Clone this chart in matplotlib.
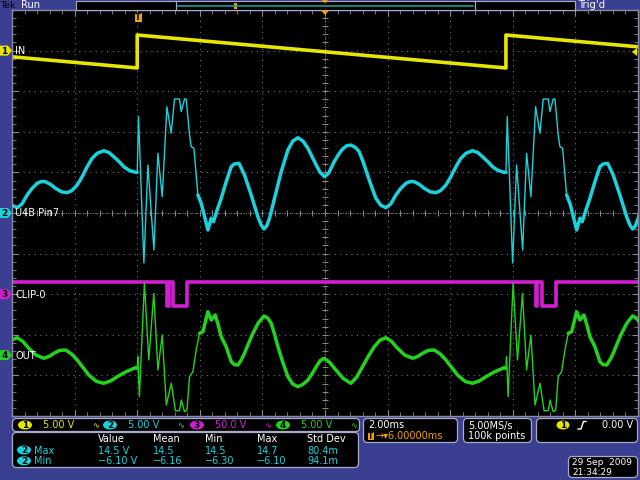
import numpy as np
import matplotlib
matplotlib.use("Agg")
import matplotlib.pyplot as plt
from matplotlib.patches import FancyBboxPatch, Polygon, Ellipse, Rectangle

# one repeat of the captured signal, time from trigger in ms
PERIOD = 11.78

# ch1 IN (yellow), volts
in_t = [0.0, 11.78]
in_v = [1.92, -2.14]

# ch2 U4B Pin7 (cyan), volts
pin7_t = [0.000, 0.042, 0.214, 0.342, 0.534, 0.661, 0.799, 0.949, 1.086, 1.192,
          1.351, 1.406, 1.511, 1.565, 1.671, 1.725, 1.812, 1.939, 2.045, 2.141,
          2.259, 2.364, 2.438, 2.556, 2.684, 2.843, 3.003, 3.099, 3.249, 3.323,
          3.428, 3.642, 3.856, 3.962, 4.048, 4.137, 4.227, 4.387, 4.601, 4.815,
          4.974, 5.134, 5.294, 5.454, 5.591, 5.719, 5.847, 5.984, 6.118, 6.294,
          6.422, 6.559, 6.693, 6.827, 6.965, 7.093, 7.220, 7.358, 7.492, 7.626,
          7.780, 7.946, 8.099, 8.265, 8.419, 8.585, 8.722, 8.850, 9.010, 9.169,
          9.361, 9.543, 9.696, 9.863, 10.016, 10.182, 10.335, 10.502, 10.712, 10.879,
          11.032, 11.198, 11.352, 11.534, 11.725]
pin7_v = [5.01, 11.86, -6.16, 5.91, -4.56, 7.35, 2.01, 13.09, 9.82, 14.04,
          14.04, 12.48, 14.04, 14.04, 9.61, 8.17, 7.97, 2.22, 1.19, -0.25,
          -2.09, -0.65, -1.07, 0.37, 1.81, 3.85, 5.70, 6.03, 6.12, 5.54,
          4.68, 2.22, -0.46, -1.48, -1.97, -1.60, -0.65, 1.81, 5.09, 7.76,
          8.87, 9.27, 8.87, 7.97, 6.90, 5.91, 4.99, 4.47, 4.93, 6.32,
          7.14, 7.88, 8.28, 8.37, 8.09, 7.55, 6.28, 4.68, 3.20, 1.81,
          0.96, 0.65, 1.11, 2.22, 3.02, 3.66, 3.88, 3.85, 3.53, 3.04,
          2.61, 2.50, 2.77, 3.45, 4.43, 5.70, 6.71, 7.35, 7.67, 7.45,
          6.93, 6.34, 5.70, 5.23, 5.01]

# ch3 CLIP-0 (magenta), volts
clip_t = [0.0, 0.95, 0.95, 1.00, 1.00, 1.14, 1.14, 1.59, 1.59, 11.78]
clip_v = [14.7, 14.7, -14.5, -14.5, 14.7, 14.7, -14.5, -14.5, 14.7, 14.7]

# ch4 OUT (green), volts
out_t = [0.000, 0.020, 0.070, 0.230, 0.370, 0.530, 0.660, 0.800, 0.930, 1.090,
         1.220, 1.350, 1.410, 1.510, 1.590, 1.671, 1.780, 1.885, 1.990, 2.099,
         2.259, 2.364, 2.492, 2.588, 2.684, 2.843, 3.003, 3.099, 3.217, 3.323,
         3.428, 3.562, 3.696, 3.866, 4.048, 4.169, 4.281, 4.377, 4.495, 4.649,
         4.815, 4.968, 5.134, 5.288, 5.454, 5.591, 5.719, 5.847, 5.974, 6.150,
         6.348, 6.581, 6.827, 7.013, 7.198, 7.380, 7.572, 7.764, 7.946, 8.131,
         8.316, 8.546, 8.796, 8.962, 9.115, 9.297, 9.489, 9.681, 9.863, 10.048,
         10.233, 10.479, 10.712, 10.927, 11.141, 11.406, 11.725]
out_v = [-1.63, -0.20, -5.12, 8.84, -0.60, 7.61, -1.83, 2.48, -6.15, -3.47,
         -6.85, -6.85, -5.53, -6.97, -6.76, -2.66, -2.04, 0.63, 2.68, 2.88,
         5.34, 4.32, 4.94, 3.71, 2.27, 1.03, -0.81, -1.16, -1.22, -0.60,
         0.22, 1.49, 2.68, 3.95, 4.82, 4.57, 3.92, 2.72, 1.03, -0.85,
         -2.66, -3.56, -3.89, -3.62, -3.07, -2.27, -1.43, -0.67, -0.39, -0.91,
         -1.83, -2.88, -3.47, -2.70, -1.43, -0.17, 1.03, 1.86, 2.14, 1.67,
         0.84, 0.01, -0.39, -0.17, 0.22, 0.57, 0.63, 0.14, -0.60, -1.53,
         -2.45, -3.25, -3.47, -3.19, -2.66, -2.08, -1.55]

# channel settings: number, label, volts/div, ground position (div), colour
channels = [
    ("1", "IN", 5.0, 4.0, "#e6e600"),
    ("2", "U4B Pin7", 5.0, 0.0, "#19d2dc"),
    ("3", "CLIP-0", 50.0, -2.0, "#d21ed2"),
    ("4", "OUT", 5.0, -3.5, "#23d21e"),
]
scale_text = ["5.00 V", "5.00 V", "50.0 V", "5.00 V"]

meas_cols = ["Value", "Mean", "Min", "Max", "Std Dev"]
meas_rows = ["Max", "Min"]
meas_vals = [["14.5 V", "14.5", "14.5", "14.7", "80.4m"],
             ["\u22126.10 V", "\u22126.16", "\u22126.30", "\u22126.10", "94.1m"]]

BG = "#3b3f91"
BORDER = "#a9abc8"
ORANGE = "#f0a000"


def tile(t, v):
    t = np.asarray(t, float)
    v = np.asarray(v, float)
    tt = np.concatenate([t + k * PERIOD for k in (-1, 0, 1)])
    return tt, np.tile(v, 3)


def to_div(v, ch):
    return np.asarray(v) / ch[2] + ch[3]


fig = plt.figure(figsize=(6.4, 4.8), dpi=100, facecolor=BG)
ax = fig.add_axes([12 / 640, 64 / 480, 626 / 640, 406 / 480], facecolor="black")
ax.set_xlim(-4, 16)
ax.set_ylim(-5, 5)

# graticule
ax.set_xticks(np.arange(-4, 16.01, 2))
ax.set_yticks(np.arange(-5, 5.01, 1))
ax.set_xticks(np.arange(-4, 16.01, 0.4), minor=True)
ax.set_yticks(np.arange(-5, 5.01, 0.2), minor=True)
ax.tick_params(which="both", direction="in", colors="#8a8a8a", top=True, right=True,
               labelbottom=False, labelleft=False)
ax.tick_params(which="major", length=4, width=0.8)
ax.tick_params(which="minor", length=3, width=0.6)
ax.grid(which="major", color="#6e6e6e", linestyle=(0, (1, 4)), linewidth=0.8)
for s in ax.spines.values():
    s.set_color("#8a8aa0")
    s.set_linewidth(1.0)
ax.axhline(0, color="#7a7a7a", lw=0.7, ls=(0, (1, 1.5)))
ax.axvline(6, color="#7a7a7a", lw=0.7, ls=(0, (1, 1.5)))
mx = np.arange(-4, 16.01, 0.4)
my = np.arange(-5, 5.01, 0.2)
ax.plot(mx, np.zeros_like(mx), ls="none", marker="|", ms=4, color="#8a8a8a", mew=0.7)
ax.plot(np.full_like(my, 6.0), my, ls="none", marker="_", ms=4, color="#8a8a8a", mew=0.7)

# traces
t1, v1 = tile(in_t, in_v)
ax.plot(t1, to_div(v1, channels[0]), color=channels[0][4], lw=2.6)

t3, v3 = tile(clip_t, clip_v)
ax.plot(t3, to_div(v3, channels[2]), color=channels[2][4], lw=2.6)

for ch, ct, cv in [(channels[1], pin7_t, pin7_v), (channels[3], out_t, out_v)]:
    tt, vv = tile(ct, cv)
    ax.plot(tt, to_div(vv, ch), color=ch[4], lw=1.0)
    ca = np.asarray(ct)
    thick = np.where((ca >= 1.9) | (ca == 0), np.asarray(cv, float), np.nan)
    tt, vv = tile(ct, thick)
    ax.plot(tt, to_div(vv, ch), color=ch[4], lw=2.5, solid_capstyle="round",
            solid_joinstyle="round")

# overlay in screen pixels
ov = fig.add_axes([0, 0, 1, 1], zorder=5)
ov.set_xlim(0, 640)
ov.set_ylim(480, 0)
ov.axis("off")
ov.patch.set_alpha(0)
FS = 7

# top bar
ov.text(0, 5.5, "Tek", color="black", fontsize=6.8, va="center")
ov.text(21, 5.5, "Run", color="white", fontsize=7.2, va="center")
ov.add_patch(Rectangle((76, 0.5), 100, 9, fc="black", ec=BORDER, lw=0.8))
ov.add_patch(Rectangle((176, 0.5), 299, 9, fc="black", ec=BORDER, lw=0.8))
ov.add_patch(Rectangle((475, 0.5), 100, 9, fc="black", ec=BORDER, lw=0.8))
ov.plot([178, 473], [5.5, 5.5], color="#1f9c8c", lw=1.2)
ov.add_patch(Rectangle((233.5, 3), 3, 6, fc=ORANGE, ec="none"))
ov.add_patch(Polygon([(322, 0), (328, 0), (325, 3.5)], fc=ORANGE, ec="none"))
ov.text(578, 5.5, "Trig'd", color="white", fontsize=7.2, va="center")

# trigger markers in the graticule
ov.add_patch(Rectangle((134.5, 13), 7, 9, fc=ORANGE, ec="none"))
ov.text(138, 17.5, "T", color="black", fontsize=6, ha="center", va="center", fontweight="bold")
ov.add_patch(Polygon([(321, 10.5), (329, 10.5), (325, 15)], fc=ORANGE, ec="none"))
ov.add_patch(Polygon([(637, 48), (637, 56), (632, 52)], fc=channels[0][4], ec="none"))

# channel tags at the left edge
for num, name, sc, off, col in channels:
    y = 213 - off * 40.6
    ov.add_patch(Polygon([(0, y - 5), (8, y - 5), (12, y), (8, y + 5), (0, y + 5)],
                         fc=col, ec="none"))
    ov.text(4.5, y + 0.5, num, color="black", fontsize=6.5, ha="center", va="center",
            fontweight="bold")
    ov.text(15, y + 0.5, name, color="white", fontsize=FS, va="center")

# channel scale row
ov.add_patch(FancyBboxPatch((14, 420), 344, 10, boxstyle="round,pad=1.5,rounding_size=4",
                            fc="black", ec=BORDER, lw=0.9))
cx = [25, 110, 197, 283]
for i, (num, name, sc, off, col) in enumerate(channels):
    ov.add_patch(Ellipse((cx[i], 425), 14, 9, fc=col, ec="none"))
    ov.text(cx[i], 425.5, num, color="black", fontsize=6.5, ha="center", va="center",
            fontweight="bold")
    ov.text(cx[i] + 18, 425.5, scale_text[i], color=col, fontsize=FS, va="center")
    ov.text(cx[i] + 67, 425.5, "\u223f", color=col, fontsize=6, va="center")

# measurement table
ov.add_patch(FancyBboxPatch((14, 434), 343, 32, boxstyle="round,pad=1.5,rounding_size=4",
                            fc="black", ec=BORDER, lw=0.9))
col_x = [98, 153, 205, 257, 307]
for x, h in zip(col_x, meas_cols):
    ov.text(x, 439.5, h, color="white", fontsize=FS, va="center")
for r, (lab, vals) in enumerate(zip(meas_rows, meas_vals)):
    y = 450.5 + r * 10.8
    ov.add_patch(Ellipse((24, y - 0.5), 14, 9, fc=channels[1][4], ec="none"))
    ov.text(24, y, "2", color="black", fontsize=6.5, ha="center", va="center",
            fontweight="bold")
    ov.text(34, y, lab, color=channels[1][4], fontsize=FS, va="center")
    for x, val in zip(col_x, vals):
        ov.text(x, y, val, color=channels[1][4], fontsize=FS, va="center")

# timebase
ov.add_patch(FancyBboxPatch((365, 420), 91, 21, boxstyle="round,pad=1.5,rounding_size=4",
                            fc="black", ec=BORDER, lw=0.9))
ov.text(368, 425.5, "2.00ms", color="white", fontsize=FS, va="center")
ov.add_patch(Rectangle((368, 432), 6, 8, fc=ORANGE, ec="none"))
ov.text(371, 436.5, "T", color="black", fontsize=5.5, ha="center", va="center",
        fontweight="bold")
ov.text(375, 436, "\u2192\u25be6.00000ms", color=ORANGE, fontsize=FS, va="center")

# acquisition
ov.add_patch(FancyBboxPatch((465, 420), 65, 21, boxstyle="round,pad=1.5,rounding_size=4",
                            fc="black", ec=BORDER, lw=0.9))
ov.text(468, 425.5, "5.00MS/s", color="white", fontsize=FS, va="center")
ov.text(468, 436, "100k points", color="white", fontsize=FS, va="center")

# trigger
ov.add_patch(FancyBboxPatch((538, 420), 98, 21, boxstyle="round,pad=1.5,rounding_size=4",
                            fc="black", ec=BORDER, lw=0.9))
ov.add_patch(Ellipse((563, 425), 13, 9, fc=channels[0][4], ec="none"))
ov.text(563, 425.5, "1", color="black", fontsize=6.5, ha="center", va="center",
        fontweight="bold")
ov.plot([578, 581, 583.5, 586], [429, 429, 421.5, 421.5], color="white", lw=1)
ov.text(602, 425.5, "0.00 V", color="white", fontsize=FS, va="center")

# date
ov.add_patch(FancyBboxPatch((570, 458), 66, 18, boxstyle="round,pad=1.5,rounding_size=4",
                            fc="black", ec=BORDER, lw=0.9))
ov.text(572.5, 462.5, "29 Sep  2009", color="white", fontsize=6.5, va="center")
ov.text(572.5, 472.5, "21:34:29", color="white", fontsize=6.5, va="center")

fig.savefig("out.png", dpi=100, facecolor=BG)
